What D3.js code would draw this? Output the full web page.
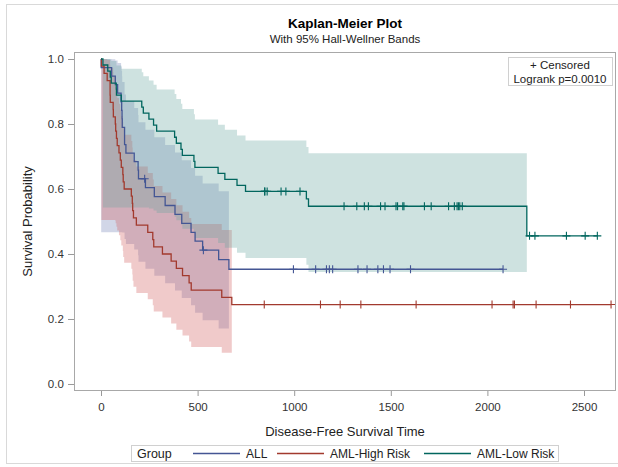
<!DOCTYPE html>
<html><head><meta charset="utf-8">
<script src="https://cdn.jsdelivr.net/npm/d3@7"></script>
<style>body{margin:0;background:#fff} text{font-family:"Liberation Sans",Arial,sans-serif}</style>
</head><body><svg id="c" width="618" height="467"></svg>
<script>
// ---- data ----
const groupNames = ["ALL", "AML-High Risk", "AML-Low Risk"];
const lineColors = ["#445694", "#A23A2E", "#01665E"];
const bandColors = ["#6F7EB3", "#D05B5B", "#66A5A0"];

const allTimes = [0,1,55,74,86,104,107,109,110,122,129,172,192,194,230,276,332,383,418,466,487,526,609,662];
const allSurv  = [1,.9737,.9474,.9211,.8947,.8684,.8421,.8158,.7895,.7368,.7105,.6842,.6579,.6316,.6041,.5767,.5492,.5217,.4943,.4668,.4394,.4119,.3825,.3531];
const allLower = [null,.467,.467,.467,.467,.467,.467,.467,.466,.446,.431,.414,.396,.376,.355,.333,.310,.288,.265,.242,.219,.196,.171,.146];
const allUpper = [null,1.0,.9993,.9954,.9878,.9767,.9629,.9470,.9295,.8910,.8705,.8494,.8277,.8057,.7826,.7593,.7357,.7121,.6883,.6645,.6408,.6172,.5930,.569];
const allCensored = [226,530,996,1111,1167,1182,1199,1330,1377,1433,1462,1496,1602,2081];

const highTimes = [0,2,16,32,47,48,63,64,74,76,80,84,93,100,105,113,115,120,157,162,164,168,183,242,268,273,318,363,390,422,456,467,625,677];
const highSurv  = [1,.9778,.9556,.9333,.8889,.8667,.8444,.8222,.8,.7778,.7556,.7333,.7111,.6889,.6667,.6444,.6222,.6,.5778,.5556,.5333,.5111,.4889,.4667,.4444,.4222,.4,.3778,.3556,.3333,.3111,.2889,.2667,.2444];
const highLower = [null,.505,.505,.505,.505,.505,.505,.505,.502,.495,.484,.472,.458,.442,.426,.409,.391,.373,.355,.337,.318,.299,.280,.261,.242,.223,.205,.186,.167,.149,.131,.114,.096,.080];
const highUpper = [null,1.0,.9996,.997,.983,.972,.960,.946,.930,.914,.897,.880,.862,.844,.825,.806,.787,.767,.748,.728,.708,.689,.669,.649,.629,.609,.589,.569,.550,.530,.511,.492,.474,.456];
const highCensored = [845,1136,1238,1345,1631,2024,2133,2140,2252,2430,2640];

const lowTimes = [0,10,35,48,53,79,80,105,211,219,248,272,288,381,390,414,421,481,486,606,641,704,748,1063,1074,2204];
const lowSurv  = [1,.9815,.9630,.9444,.9259,.9074,.8889,.8704,.8519,.8333,.8148,.7963,.7778,.7593,.7407,.7222,.7037,.6852,.6667,.6481,.6296,.6111,.5926,.5698,.5470,.4558];
const lowLower = [null,.543,.543,.543,.543,.543,.543,.543,.543,.543,.540,.534,.526,.515,.504,.491,.478,.464,.449,.434,.419,.404,.388,.367,.345,.157];
const lowUpper = [null,1.0,.9998,.998,.994,.988,.980,.970,.959,.947,.934,.921,.906,.892,.877,.862,.846,.830,.814,.798,.782,.765,.749,.729,.710,.716];
const lowCensored = [847,848,860,932,957,1030,1258,1324,1363,1384,1447,1470,1527,1535,1562,1568,1674,1709,1799,1829,1843,1850,1857,1870,2218,2246,2409,2506,2569];

const xTicks = [0,500,1000,1500,2000,2500];
const yTicks = [0,0.2,0.4,0.6,0.8,1.0];
const titleText = "Kaplan-Meier Plot";
const subtitleText = "With 95% Hall-Wellner Bands";
const xTitle = "Disease-Free Survival Time";
const yTitle = "Survival Probability";
const insetLines = ["+ Censored", "Logrank p=0.0010"];
const legendTitle = "Group";

// ---- build ----
const series = [
  {t: allTimes, s: allSurv, lo: allLower, hi: allUpper, c: allCensored},
  {t: highTimes, s: highSurv, lo: highLower, hi: highUpper, c: highCensored},
  {t: lowTimes, s: lowSurv, lo: lowLower, hi: lowUpper, c: lowCensored}
].map((g, i) => ({
  name: groupNames[i], color: lineColors[i], band: bandColors[i],
  pts: g.t.map((t, j) => ({t, s: g.s[j], lo: g.lo[j], hi: g.hi[j]})),
  cens: g.c.map(t => ({t, s: g.s[d3.bisectRight(g.t, t) - 1]}))
}));

const svg = d3.select("#c");
const L = 74, R = 616, T = 52, B = 391;
const x = d3.scaleLinear().domain([-139.75, 2665.6]).range([L, R]);
const y = d3.scaleLinear().domain([-0.02154, 1.02154]).range([B, T]);

// outer border
svg.append("rect").attr("x", 6.5).attr("y", 4.5).attr("width", 640).attr("height", 459)
  .attr("fill", "none").attr("stroke", "#d9d9d9");

// titles
svg.append("text").attr("x", (L + R) / 2).attr("y", 28).attr("text-anchor", "middle")
  .attr("font-size", 13.5).attr("font-weight", "bold").attr("fill", "#000").text(titleText);
svg.append("text").attr("x", (L + R) / 2).attr("y", 43).attr("text-anchor", "middle")
  .attr("font-size", 11.5).attr("fill", "#222").text(subtitleText);

const plot = svg.append("g");
// bands
const area = d3.area().defined(d => d.lo != null).curve(d3.curveStepAfter)
  .x(d => x(d.t)).y0(d => y(d.lo)).y1(d => y(d.hi));
series.forEach(g => {
  plot.append("path").datum(g.pts).attr("d", area)
    .attr("fill", g.band).attr("fill-opacity", 0.32).attr("stroke", "none");
});
// step lines
const line = d3.line().curve(d3.curveStepAfter).x(d => x(d.t)).y(d => y(d.s));
series.forEach(g => {
  const last = g.cens.length ? d3.max(g.cens, d => d.t) : 0;
  const pts = g.pts.slice();
  const lastT = pts[pts.length - 1].t;
  if (last > lastT) pts.push({t: last, s: pts[pts.length - 1].s});
  plot.append("path").datum(pts).attr("d", line)
    .attr("fill", "none").attr("stroke", g.color).attr("stroke-width", 1.3);
  // censor marks
  const sym = d3.symbol().type(d3.symbolCross).size(0);
  plot.selectAll(null).data(g.cens).join("path")
    .attr("d", "M-4,0H4M0,-4V4")
    .attr("transform", d => `translate(${x(d.t)},${y(d.s)})`)
    .attr("stroke", g.color).attr("stroke-width", 1.1).attr("fill", "none");
});

// frame
svg.append("rect").attr("x", L + 0.5).attr("y", T + 0.5).attr("width", R - L - 1).attr("height", B - T - 1)
  .attr("fill", "none").attr("stroke", "#a8a8a8");

// axes
const xAxis = svg.append("g").attr("transform", `translate(0,${B})`)
  .call(d3.axisBottom(x).tickValues(xTicks).tickSize(5).tickSizeOuter(0).tickFormat(d3.format("d")));
const yAxis = svg.append("g").attr("transform", `translate(${L},0)`)
  .call(d3.axisLeft(y).tickValues(yTicks).tickSize(6).tickSizeOuter(0).tickFormat(d3.format(".1f")));
[xAxis, yAxis].forEach(a => {
  a.select(".domain").remove();
  a.selectAll(".tick line").attr("stroke", "#999");
  a.selectAll(".tick text").attr("fill", "#333").attr("font-size", 11.5)
    .attr("font-family", "Liberation Sans, Arial, sans-serif");
});
xAxis.selectAll(".tick text").attr("dy", "1.05em");
yAxis.selectAll(".tick text").attr("dx", "-0.1em");

svg.append("text").attr("x", (L + R) / 2).attr("y", 436).attr("text-anchor", "middle")
  .attr("font-size", 13).attr("fill", "#222").text(xTitle);
svg.append("text").attr("transform", `translate(32,${(T + B) / 2}) rotate(-90)`)
  .attr("text-anchor", "middle").attr("font-size", 13).attr("fill", "#222").text(yTitle);

// inset
svg.append("rect").attr("x", 508.5).attr("y", 57.5).attr("width", 104).attr("height", 28)
  .attr("fill", "#fff").attr("stroke", "#d0d0d0");
insetLines.forEach((s, i) => svg.append("text").attr("x", 560).attr("y", 69 + i * 14)
  .attr("text-anchor", "middle").attr("font-size", 11.5).attr("fill", "#222").text(s));

// legend
const lg = svg.append("g");
lg.append("rect").attr("x", 131.5).attr("y", 445.5).attr("width", 427).attr("height", 16)
  .attr("fill", "#fff").attr("stroke", "#d0d0d0");
lg.append("text").attr("x", 137).attr("y", 458).attr("font-size", 12.5).attr("fill", "#222").text(legendTitle);
const lx = [193, 277, 424];
series.forEach((g, i) => {
  lg.append("line").attr("x1", lx[i]).attr("x2", lx[i] + 47).attr("y1", 453.5).attr("y2", 453.5)
    .attr("stroke", g.color).attr("stroke-width", 1.3);
  lg.append("text").attr("x", lx[i] + 53).attr("y", 458).attr("font-size", 12).attr("fill", "#222").text(g.name);
});
</script></body></html>
